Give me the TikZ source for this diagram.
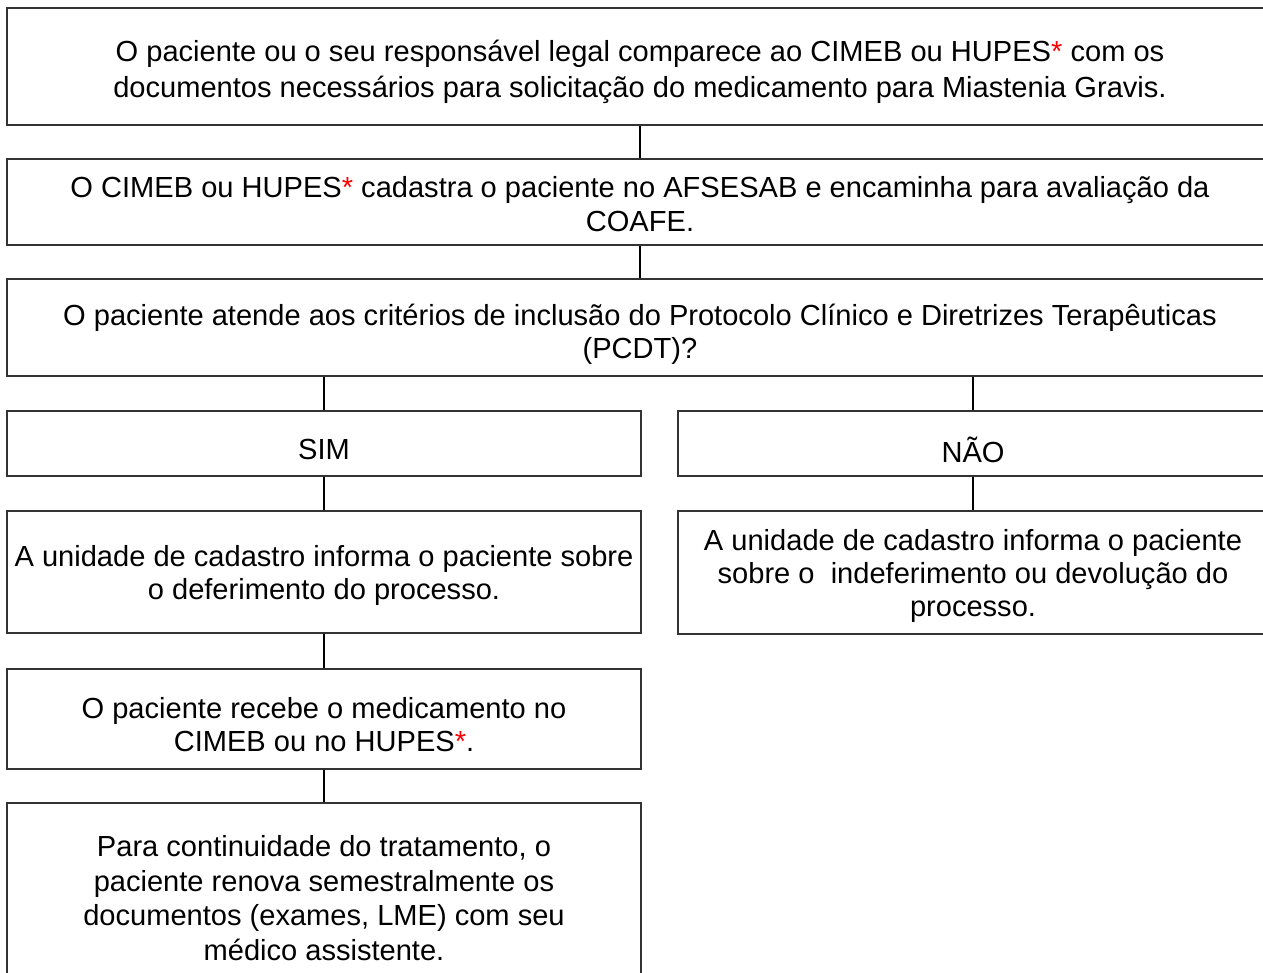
\documentclass[tikz,border=0pt]{standalone}
\usepackage{fontspec}
\setmainfont{Liberation Sans}
\newcommand{\redstar}{\textcolor{red}{*}}
\begin{document}
\begin{tikzpicture}[x=0.75pt,y=-0.75pt,
  box/.style={draw=black!80,line width=1.1pt,rectangle,inner sep=0pt},
  txt/.style={align=center,inner sep=0pt,font=\fontsize{21.8}{25}\selectfont},
  link/.style={line width=1.5pt}]
\clip (0,0) rectangle (1263,972);
\node[box,minimum width=949.5pt,minimum height=87.75pt,
  label={[txt,yshift=-4pt,font=\fontsize{21.8}{27}\selectfont]center:{O paciente ou o seu responsável legal comparece ao CIMEB ou HUPES\redstar{} com os\\
   documentos necessários para solicitação do medicamento para Miastenia Gravis.}}] (top) at (640,66.5) {};
\node[box,minimum width=949.5pt,minimum height=64.5pt,
  label={[txt,yshift=-1.5pt]center:{O CIMEB ou HUPES\redstar{} cadastra o paciente no AFSESAB e encaminha para avaliação da\\ COAFE.}}] (reg) at (640,202) {};
\node[box,minimum width=949.5pt,minimum height=72.75pt,
  label={[txt,yshift=-5pt]center:{O paciente atende aos critérios de inclusão do Protocolo Clínico e Diretrizes Terapêuticas\\ (PCDT)?}}] (crit) at (640,327.5) {};
\node[box,minimum width=475.5pt,minimum height=48.75pt,
  label={[txt,yshift=-4.5pt]center:SIM}] (sim) at (324,443.5) {};
\node[box,minimum width=442.5pt,minimum height=48.75pt,
  label={[txt,yshift=-4.5pt]center:NÃO}] (nao) at (973,443.5) {};
\node[box,minimum width=475.5pt,minimum height=91.5pt,
  label={[txt,yshift=-2.5pt]center:{A unidade de cadastro informa o paciente sobre\\ o deferimento do processo.}}] (yes) at (324,572) {};
\node[box,minimum width=442.5pt,minimum height=92.25pt,
  label={[txt,yshift=-2.5pt]center:{A unidade de cadastro informa o paciente\\ sobre o\ \ indeferimento ou devolução do\\ processo.}}] (no) at (973,572.5) {};
\node[box,minimum width=475.5pt,minimum height=75pt,
  label={[txt,yshift=-4pt]center:{O paciente recebe o medicamento no\\ CIMEB ou no HUPES\redstar.}}] (recv) at (324,719) {};
\node[box,minimum width=475.5pt,minimum height=142.5pt,
  label={[txt,font=\fontsize{21.8}{26}\selectfont]center:{Para continuidade do tratamento, o\\ paciente renova semestralmente os\\
   documentos (exames, LME) com seu\\ médico assistente.}}] (renew) at (324,898) {};
\draw[link] (top) -- (reg);
\draw[link] (reg) -- (crit);
\draw[link] (crit.south -| sim.north) -- (sim);
\draw[link] (crit.south -| nao.north) -- (nao);
\draw[link] (sim) -- (yes);
\draw[link] (nao) -- (no);
\draw[link] (yes) -- (recv);
\draw[link] (recv) -- (renew);
\end{tikzpicture}
\end{document}
